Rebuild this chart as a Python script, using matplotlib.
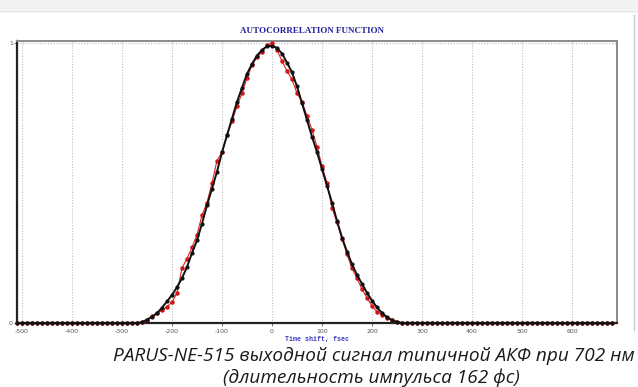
import matplotlib
matplotlib.use("Agg")
import matplotlib.pyplot as plt
from matplotlib.lines import Line2D

# ---- data ----
time_fs = list(range(-510, 690, 10))

tail_left_zeros = [0.0] * 23     # -510 .. -290
tail_right_zeros = [0.0] * 41    # 280 .. 680

core_time = list(range(-280, 280, 10))
fit_core = [0.0, 0.0, 0.003, 0.012, 0.022, 0.035, 0.055, 0.077, 0.10, 0.128,
            0.160, 0.20, 0.25, 0.295, 0.355, 0.42, 0.48, 0.54, 0.61, 0.67,
            0.73, 0.79, 0.84, 0.89, 0.925, 0.955, 0.975, 0.988, 0.99, 0.982,
            0.962, 0.93, 0.895, 0.845, 0.785, 0.725, 0.665, 0.61, 0.55, 0.49,
            0.43, 0.365, 0.305, 0.255, 0.21, 0.172, 0.14, 0.108, 0.08, 0.056,
            0.036, 0.021, 0.010, 0.004, 0.0, 0.0]
meas_core = [0.0, 0.0, 0.003, 0.010, 0.025, 0.035, 0.045, 0.058, 0.075, 0.107,
             0.196, 0.23, 0.27, 0.315, 0.385, 0.43, 0.50, 0.58, 0.61, 0.67,
             0.72, 0.775, 0.82, 0.875, 0.92, 0.95, 0.968, 0.993, 1.0, 0.975,
             0.935, 0.90, 0.87, 0.82, 0.79, 0.74, 0.69, 0.63, 0.56, 0.50,
             0.41, 0.36, 0.30, 0.245, 0.195, 0.16, 0.12, 0.09, 0.06, 0.04,
             0.03, 0.019, 0.010, 0.005, 0.0, 0.0]

fit_vals = tail_left_zeros + fit_core + tail_right_zeros
meas_vals = tail_left_zeros + meas_core + tail_right_zeros

x_ticks = [-500, -400, -300, -200, -100, 0, 100, 200, 300, 400, 500, 600]
y_ticks = [0, 1]
title = "AUTOCORRELATION FUNCTION"
xlabel = "Time shift, fsec"
caption1 = "PARUS-NE-515 выходной сигнал типичной АКФ при 702 нм"
caption2 = "(длительность импульса 162 фс)"

# ---- figure ----
fig = plt.figure(figsize=(6.38, 3.87), dpi=100)
fig.patch.set_facecolor("white")

# page decorations
fig.patches.append(plt.Rectangle((0, 1 - 10 / 387), 1, 10 / 387, transform=fig.transFigure,
                                 facecolor="#f2f2f2", edgecolor="none", zorder=0))
fig.lines.append(Line2D([0, 1], [1 - 11 / 387, 1 - 11 / 387], transform=fig.transFigure,
                        color="#e2e2e2", lw=1))
fig.lines.append(Line2D([634 / 638, 634 / 638], [1 - 330 / 387, 1 - 15 / 387],
                        transform=fig.transFigure, color="#c8c8c8", lw=1))

ax = fig.add_axes([17 / 638, 1 - 323 / 387, 600 / 638, 282 / 387])
ax.set_xlim(-510, 690)
ax.set_ylim(0, 1.007)

ax.set_xticks(x_ticks)
ax.set_xticklabels([str(v) for v in x_ticks])
ax.set_yticks(y_ticks)
ax.set_yticklabels([str(v) for v in y_ticks])
ax.tick_params(axis="both", length=2, width=0.6, colors="#555555", labelsize=4.5, pad=2)
ax.tick_params(axis="y", pad=1)

ax.grid(axis="x", color="#bdbdbd", linestyle=(0, (1, 1.5)), lw=0.8)
ax.axhline(1.0, color="#bdbdbd", linestyle=(0, (1, 1.5)), lw=0.8, zorder=1)

for s in ["left", "bottom"]:
    ax.spines[s].set_color("#222222")
    ax.spines[s].set_linewidth(1.6)
for s in ["top", "right"]:
    ax.spines[s].set_color("#8a8a8a")
    ax.spines[s].set_linewidth(1.4)

ax.plot(time_fs, meas_vals, color="#e02020", lw=0.8, marker="o", ms=2.2,
        mec="#d01010", mfc="#e02020", clip_on=False, zorder=3)
ax.plot(time_fs, fit_vals, color="#111111", lw=1.4, marker="o", ms=2.0,
        mec="#111111", mfc="#111111", clip_on=False, zorder=4)

fig.text(312 / 638, 1 - 31 / 387, title, ha="center", va="center",
         family="Liberation Serif", weight="bold", fontsize=6.5, color="#22229a")
fig.text(317 / 638, 1 - 340 / 387, xlabel, ha="center", va="center",
         family="Liberation Mono", weight="bold", fontsize=4.8, color="#3a3ac0")

fig.text(373.5 / 638, 1 - 356 / 387, caption1, ha="center", va="center",
         family="Open Sans", style="italic", fontsize=13.7, color="#1a1a1a")
fig.text(371 / 638, 1 - 378 / 387, caption2, ha="center", va="center",
         family="Open Sans", style="italic", fontsize=13.7, color="#1a1a1a")

fig.savefig("out.png", dpi=100)
